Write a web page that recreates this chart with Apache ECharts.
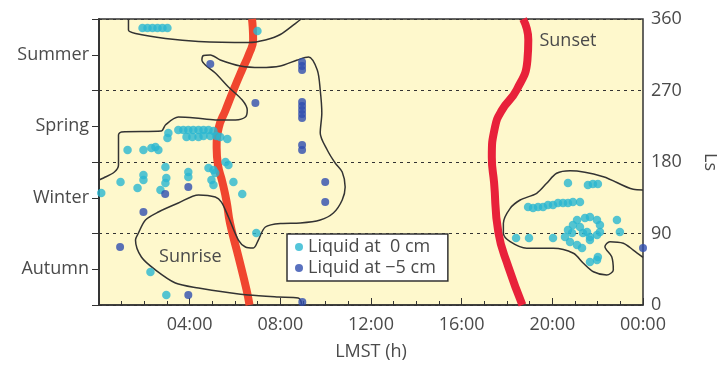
<!DOCTYPE html>
<html>
<head>
<meta charset="utf-8">
<script src="https://cdn.jsdelivr.net/npm/echarts@6/dist/echarts.min.js"></script>
<style>
html, body { margin: 0; padding: 0; background: #fff; }
#chart { width: 717px; height: 367px; }
</style>
</head>
<body>
<div id="chart"></div>
<script>
// seasons on the left axis (centred on Ls 45, 135, 225, 315)
const seasons = ['Autumn', 'Winter', 'Spring', 'Summer']

// [LMST hour, Ls]
const liquid0cm = [
  [1.92, 348.7], [2.14, 348.7], [2.36, 348.7], [2.58, 348.7], [2.80, 348.7], [3.02, 348.7],
  [6.99, 344.9],
  [3.06, 216.5], [3.02, 210.2], [3.50, 220.3], [3.72, 220.3], [3.94, 220.3], [4.16, 220.3],
  [4.39, 220.3], [4.61, 220.3], [4.83, 220.3], [5.05, 219.0],
  [3.86, 211.5], [4.12, 211.5], [4.39, 211.5], [4.61, 212.7], [4.91, 212.7], [5.18, 212.7],
  [5.35, 211.5], [5.66, 208.9],
  [1.26, 195.1], [1.96, 195.1], [2.31, 197.6], [2.49, 198.9], [2.62, 195.1],
  [2.93, 173.7], [2.97, 159.9], [2.93, 153.6], [2.71, 144.8],
  [3.94, 167.4], [3.94, 161.1], [1.96, 163.6], [1.96, 157.3],
  [0.95, 154.8], [1.70, 147.3], [0.10, 141.0],
  [4.83, 172.4], [5.05, 169.9], [5.13, 166.1], [4.96, 157.3], [5.05, 151.0],
  [5.58, 180.0], [5.71, 176.2], [5.93, 154.8], [6.32, 139.7],
  [2.97, 12.6], [2.27, 41.5], [6.94, 90.6],
  [20.69, 153.6], [21.57, 151.0], [21.79, 152.3], [22.01, 152.3],
  [18.93, 123.4], [19.15, 122.1], [19.37, 123.4], [19.59, 123.4], [19.81, 125.9], [20.03, 125.9],
  [20.25, 128.4], [20.47, 128.4], [20.69, 128.4], [20.91, 129.6], [21.22, 129.6],
  [21.09, 107.0], [21.44, 109.5], [21.66, 110.8], [21.97, 107.0], [22.10, 100.7], [22.10, 91.9],
  [21.97, 88.1], [21.66, 85.6], [21.35, 90.6], [21.22, 98.2], [20.91, 100.7], [20.69, 94.4],
  [20.56, 85.6], [20.78, 79.3], [21.09, 75.5], [21.31, 71.7], [21.66, 81.8], [21.53, 91.9],
  [20.87, 90.6], [22.85, 107.0], [22.98, 91.9],
  [18.40, 84.3], [18.97, 84.3], [20.03, 84.3],
  [21.66, 54.1], [21.97, 56.6], [22.01, 60.4]
]

const liquidMinus5cm = [
  [4.91, 303.3], [6.90, 254.3],
  [8.96, 305.9], [8.96, 300.8], [8.96, 295.8],
  [8.96, 255.5], [8.96, 250.5], [8.96, 245.4], [8.96, 240.4], [8.96, 235.4],
  [8.96, 201.4], [8.96, 195.1],
  [9.98, 154.8], [9.98, 129.6], [8.97, 3.8],
  [1.96, 117.1], [0.93, 73.0], [2.92, 139.7], [3.94, 12.6], [3.94, 148.5],
  [24.0, 71.7]
]

const sunrise = [
  [6.64, 0], [6.51, 19], [6.15, 61], [5.78, 103], [5.63, 130], [5.44, 155], [5.25, 176],
  [5.19, 198], [5.28, 223], [5.58, 245], [5.94, 271], [6.31, 296], [6.62, 316], [6.80, 334],
  [6.78, 350], [6.75, 360]
]

const sunset = [
  [18.68, 0], [18.06, 48], [17.62, 91], [17.43, 154], [17.33, 186], [17.47, 224], [17.77, 245],
  [18.43, 271], [18.90, 308], [18.94, 334], [18.71, 360]
]

const contourTop = [
  [1.30, 360], [1.30, 346.1], [1.61, 341.7], [2.93, 335.4], [4.39, 331.7], [6.59, 330.4],
  [7.34, 333.6], [8.00, 340.5], [8.66, 354.3], [8.92, 360]
]

const contourMain = [
  [0, 157.3], [0.20, 159.9], [0.68, 167.4], [0.86, 176.2], [0.86, 214.0], [0.99, 217.8],
  [2.75, 219.0], [2.93, 226.6], [3.50, 236.6], [4.25, 235.4], [5.13, 232.9], [6.02, 232.9],
  [6.46, 236.6], [6.54, 245.4], [6.32, 258.0], [5.71, 274.4], [5.13, 292.0], [4.69, 302.1],
  [4.54, 308.4], [4.61, 314.0], [4.91, 314.7], [5.35, 308.4], [6.24, 300.8], [7.12, 298.9],
  [8.00, 300.8], [8.75, 308.4], [9.24, 312.2], [9.63, 295.8], [9.76, 270.6], [9.83, 241.7],
  [9.76, 216.5], [10.07, 195.1], [10.42, 178.7], [10.73, 167.4], [10.86, 148.5], [10.73, 132.2],
  [10.34, 115.8], [9.76, 107.0], [8.88, 103.2], [8.04, 102.6], [7.34, 98.2], [7.03, 81.8],
  [6.81, 71.7], [6.46, 73.0], [6.15, 81.8], [5.71, 110.8], [5.40, 129.6], [5.13, 135.9],
  [4.39, 138.5], [3.50, 128.4], [2.62, 117.1], [2.05, 107.0], [1.74, 90.6], [1.61, 81.8],
  [1.87, 60.4], [2.49, 44.1], [3.37, 27.7], [4.39, 21.4], [5.84, 15.1], [6.59, 12.6],
  [7.91, 10.1], [8.79, 8.8], [8.93, 2.5], [8.93, 0]
]

const contourRight = [
  [24.0, 144.8], [23.57, 145.6], [22.25, 161.5], [20.78, 169.0], [20.19, 165.8], [19.75, 153.2],
  [19.31, 140.6], [18.58, 132.2], [18.14, 121.7], [17.84, 102.8], [17.84, 90.2], [18.14, 79.7],
  [18.87, 71.4], [20.04, 71.4], [20.93, 65.1], [21.37, 52.5], [21.81, 41.9], [22.40, 37.8],
  [22.69, 44.1], [22.62, 60.8], [22.32, 73.4], [22.54, 79.7], [23.13, 77.7], [23.57, 69.2],
  [24.0, 60.0]
]

const FONT = 'Open Sans'
const TEXT = '#4a4a4a'
const FS = 18

const contourStyle = { color: '#333', width: 1.5 }
const contour = (data) => ({
  type: 'line', data, smooth: 0.3, symbol: 'none', z: 3,
  lineStyle: contourStyle, silent: true
})

const chart = echarts.init(document.getElementById('chart'))
chart.setOption({
  animation: false,
  backgroundColor: '#fff',
  textStyle: { fontFamily: FONT },
  grid: {
    left: 99, right: 74, top: 19, bottom: 62,
    outerBoundsMode: 'none', containLabel: false,
    show: true, backgroundColor: '#FEF8CC', borderColor: '#333', borderWidth: 1.5
  },
  legend: {
    orient: 'vertical', left: 287, top: 234,
    data: ['Liquid at  0 cm', 'Liquid at \u22125 cm'],
    icon: 'circle', itemWidth: 8, itemHeight: 8, itemGap: 3,
    padding: [4, 12, 4, 8],
    backgroundColor: '#fff', borderColor: '#333', borderWidth: 1.5,
    textStyle: { fontFamily: FONT, fontSize: FS, color: TEXT }
  },
  xAxis: {
    type: 'value', min: 0, max: 24, interval: 4,
    name: 'LMST (h)', nameLocation: 'middle', nameGap: 38,
    nameTextStyle: { fontFamily: FONT, fontSize: FS, color: TEXT },
    axisLine: { lineStyle: { color: '#333', width: 1.5 } },
    axisTick: { inside: true, length: 7, lineStyle: { color: '#333' } },
    minorTick: { show: true, splitNumber: 4, length: 4, lineStyle: { color: '#333' } },
    splitLine: { show: false },
    axisLabel: {
      fontSize: FS, color: TEXT, margin: 11,
      formatter: v => v === 0 ? '' : String(v % 24).padStart(2, '0') + ':00'
    }
  },
  yAxis: [
    {
      type: 'value', position: 'right', min: 0, max: 360, interval: 90,
      name: 'Ls', nameLocation: 'middle', nameGap: 58, nameRotate: -90,
      nameTextStyle: { fontFamily: FONT, fontSize: FS, color: TEXT },
      axisLine: { show: true, lineStyle: { color: '#333', width: 1.5 } },
      axisTick: { inside: true, length: 7, lineStyle: { color: '#333' } },
      minorTick: { show: true, splitNumber: 2, length: 7, lineStyle: { color: '#333' } },
      splitLine: { show: true, lineStyle: { color: '#333', type: [3, 4], width: 1 } },
      axisLabel: { fontSize: FS, color: TEXT, margin: 8 }
    },
    {
      type: 'category', position: 'left', data: seasons, boundaryGap: true,
      axisLine: { show: true, lineStyle: { color: '#333', width: 1.5 } },
      axisTick: { inside: true, alignWithLabel: true, length: 7, lineStyle: { color: '#333' } },
      axisLabel: { fontSize: FS, color: TEXT, margin: 10 },
      splitLine: { show: false }
    }
  ],
  series: [
    {
      name: 'sunrise', type: 'line', data: sunrise, smooth: true, symbol: 'none', z: 2,
      lineStyle: { color: '#F0462F', width: 8 },
      markPoint: {
        symbol: 'circle', symbolSize: 0,
        label: { show: true, formatter: 'Sunrise', fontFamily: FONT, fontSize: FS, color: TEXT },
        data: [{ coord: [4.03, 60] }]
      }
    },
    {
      name: 'sunset', type: 'line', data: sunset, smooth: true, symbol: 'none', z: 2,
      lineStyle: { color: '#E8213A', width: 8 },
      markPoint: {
        symbol: 'circle', symbolSize: 0,
        label: { show: true, formatter: 'Sunset', fontFamily: FONT, fontSize: FS, color: TEXT },
        data: [{ coord: [20.69, 333] }]
      }
    },
    contour(contourTop),
    contour(contourMain),
    contour(contourRight),
    {
      name: 'Liquid at  0 cm', type: 'scatter', data: liquid0cm, symbolSize: 8.5, z: 4,
      itemStyle: { color: '#29B6D1' }
    },
    {
      name: 'Liquid at \u22125 cm', type: 'scatter', data: liquidMinus5cm, symbolSize: 8, z: 4,
      itemStyle: { color: '#2F4EAF' }
    }
  ]
})
</script>
</body>
</html>
